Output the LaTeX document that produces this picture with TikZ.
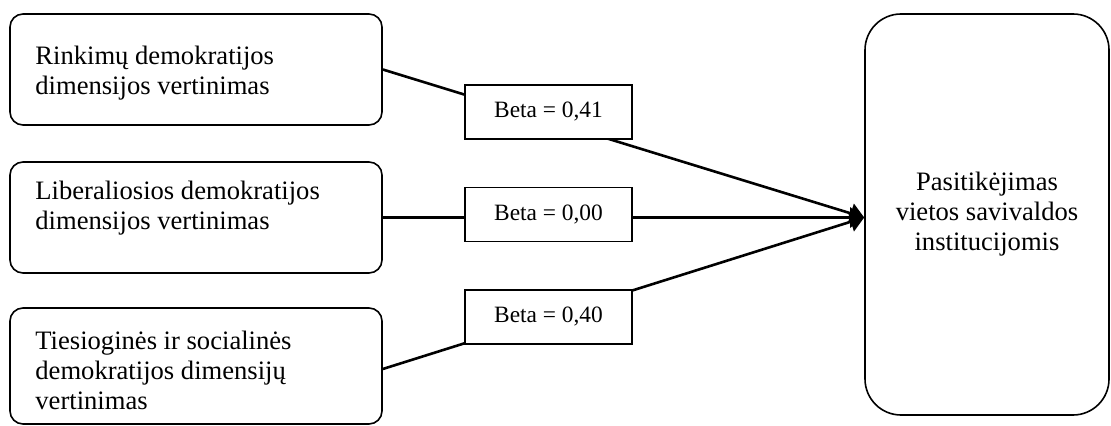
\documentclass[tikz,border=0pt]{standalone}
\usepackage{fontspec}
\setmainfont{Liberation Serif}
\usetikzlibrary{arrows.meta}
\begin{document}
\begin{tikzpicture}[x=0.5pt,y=-0.5pt,
  lbox/.style={draw, line width=0.8pt, rounded corners=6.5pt, minimum width=186pt, inner sep=0pt},
  btext/.style={font=\fontsize{13.3pt}{15pt}\selectfont, align=left, inner sep=0pt, anchor=base west},
  rbox/.style={draw, line width=0.8pt, rounded corners=18pt, minimum width=122pt, minimum height=200.5pt, align=center, inner sep=0pt, font=\fontsize{13.3pt}{15pt}\selectfont},
  betabox/.style={draw, fill=white, line width=0.8pt, minimum width=83.5pt, minimum height=27pt, inner sep=0pt, font=\fontsize{11.7pt}{14pt}\selectfont},
  conn/.style={line width=1.3pt},
  tiparrow/.style={-{Triangle[length=7pt,width=10pt]}}
]
\useasboundingbox (0,0) rectangle (1111,426);
\node[lbox, minimum height=55.5pt] (b1) at (196,69.5) {};
\node[lbox, minimum height=55.5pt] (b2) at (196,217.5) {};
\node[lbox, minimum height=58pt] (b3) at (196,366) {};
\node[rbox] (r) at (987,214.5) {Pasitikėjimas\\vietos savivaldos\\institucijomis};
\node[btext] (t1) at (35,95) {Rinkimų demokratijos\\dimensijos vertinimas};
\node[btext] (t2) at (35,230) {Liberaliosios demokratijos\\dimensijos vertinimas};
\node[btext] (t3) at (35,409) {Tiesioginės ir socialinės\\demokratijos dimensijų\\vertinimas};
\coordinate (tip) at (b2.east -| r.west);
\draw[conn, tiparrow] (b1.east) -- (tip);
\draw[conn, tiparrow] (b2.east) -- (tip);
\draw[conn, tiparrow] ([yshift=-1.5pt]b3.east) -- (tip);
\node[betabox] (c1) at (548.5,112) {Beta = 0,41};
\node[betabox] (c2) at (548.5,214.5) {Beta = 0,00};
\node[betabox] (c3) at (548.5,317) {Beta = 0,40};
\end{tikzpicture}
\end{document}
